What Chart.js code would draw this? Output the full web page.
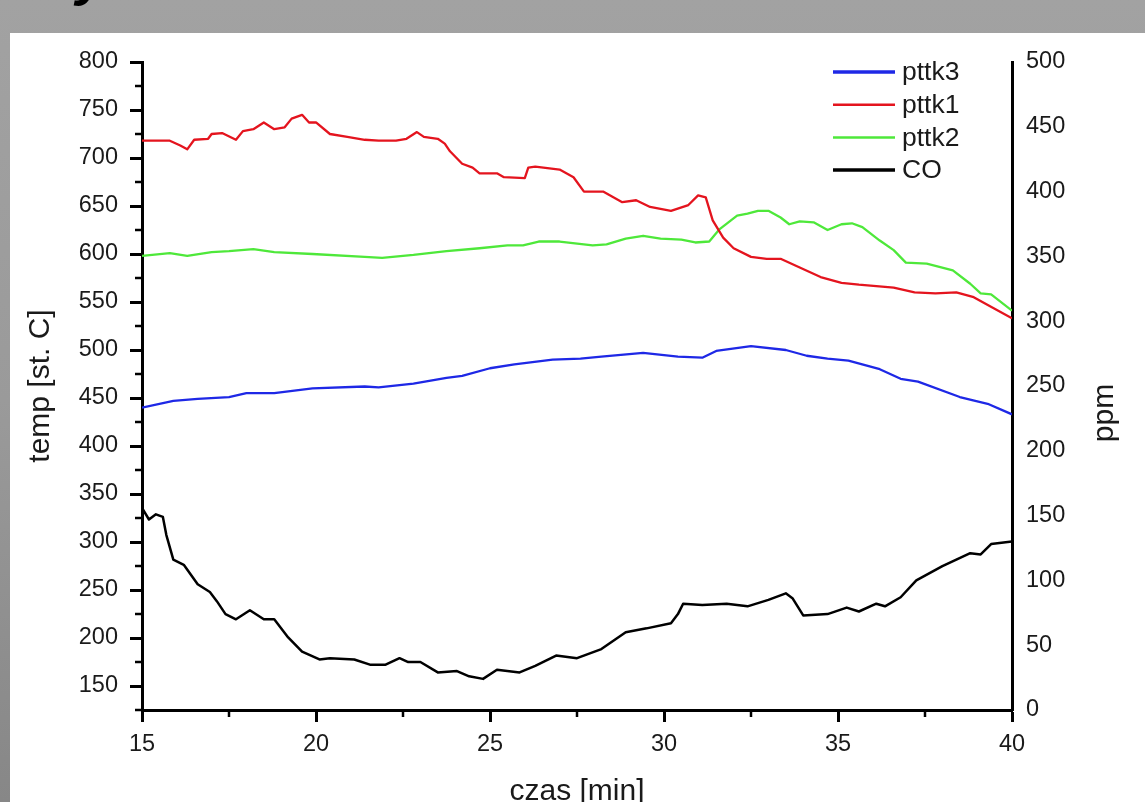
<!DOCTYPE html>
<html>
<head>
<meta charset="utf-8">
<script src="https://cdn.jsdelivr.net/npm/chart.js@4"></script>
<style>
  html, body { margin:0; padding:0; width:1145px; height:802px; overflow:hidden; }
  body { background: linear-gradient(to bottom, #a2a2a2 0%, #9a9a9a 50%, #878787 100%); position:relative; font-family:"Liberation Sans", Arial, sans-serif; }
  #panel { position:absolute; left:10px; top:33px; width:1135px; height:769px; background:#fff; overflow:hidden; }
  #cv { position:absolute; left:0; top:0; }
  #ttl { position:absolute; left:76px; top:-53px; font: italic bold 56px/56px "Liberation Sans", Arial, sans-serif; color:#000; }
</style>
</head>
<body>
<span id="ttl">y</span>
<div id="panel"><canvas id="cv" width="1135" height="790"></canvas></div>
<script>
// ---- data ----
const pttk3Time = [15.0,15.9,16.6,17.5,18.0,18.8,19.9,21.4,21.8,22.8,23.75,24.2,25.0,25.7,26.8,27.6,28.2,29.4,30.4,31.1,31.5,32.5,33.5,34.1,34.7,35.3,36.2,36.8,37.3,38.5,39.3,40.0];
const pttk3Temp = [440,447,449,451,455,455,460,462,461,465,471,473,481,485,490,491,493,497,493,492,499,504,500,494,491,489,480,470,467,451,444,433];

const pttk1Time = [15.0,15.8,16.1,16.3,16.5,16.9,17.0,17.3,17.7,17.9,18.2,18.5,18.8,19.1,19.3,19.6,19.8,20.0,20.4,20.9,21.4,21.8,22.3,22.6,22.9,23.1,23.5,23.7,23.85,24.2,24.5,24.7,25.2,25.4,26.0,26.1,26.3,27.0,27.4,27.7,28.25,28.8,29.2,29.6,30.2,30.7,30.98,31.2,31.4,31.7,32.0,32.5,32.95,33.35,33.9,34.5,35.1,35.6,36.6,37.2,37.8,38.4,38.9,39.5,40.0];
const pttk1Temp = [718,718,713,709,719,720,725,726,719,728,730,737,730,732,741,745,737,737,725,722,719,718,718,720,727,722,720,715,707,694,690,684,684,680,679,690,691,688,680,665,665,654,656,649,645,651,661,659,635,617,606,597,595,595,586,576,570,568,565,560,559,560,555,543,533];

const pttk2Time = [15.0,15.8,16.3,17.0,17.5,18.2,18.8,19.9,21.4,21.9,22.8,23.75,24.7,25.5,25.95,26.4,27.0,27.95,28.35,28.9,29.4,29.9,30.5,30.9,31.3,31.6,32.1,32.4,32.7,33.0,33.35,33.6,33.9,34.3,34.7,35.1,35.4,35.7,36.2,36.6,36.95,37.55,38.3,38.8,39.1,39.4,40.0];
const pttk2Temp = [598,601,598,602,603,605,602,600,597,596,599,603,606,609,609,613,613,609,610,616,619,616,615,612,613,626,640,642,645,645,638,631,634,633,625,631,632,628,614,604,591,590,583,569,559,558,541];

const coTime = [15.0,15.2,15.4,15.6,15.7,15.9,16.2,16.6,16.95,17.15,17.4,17.7,18.1,18.5,18.8,19.2,19.6,20.1,20.4,21.1,21.55,22.0,22.4,22.65,23.0,23.5,24.05,24.4,24.8,25.2,25.85,26.3,26.9,27.5,28.2,28.9,29.5,30.2,30.4,30.55,31.1,31.8,32.4,33.0,33.5,33.7,34.0,34.7,35.25,35.6,36.1,36.35,36.8,37.25,38.0,38.8,39.1,39.4,40.0];
const coPpm = [156,147,151,149,135,116,112,97,91,84,74,70,77,70,70,56,45,39,40,39,35,35,40,37,37,29,30,26,24,31,29,34,42,40,47,60,63,67,74,82,81,82,80,85,90,86,73,74,79,76,82,80,87,100,111,121,120,128,130];

const seriesLabels = ['pttk3','pttk1','pttk2','CO'];
const xTitle = 'czas [min]';
const yLeftTitle = 'temp [st. C]';
const yRightTitle = 'ppm';

const pts = (xs, ys) => xs.map((x, i) => ({x: x, y: ys[i]}));

const FONT = '"Liberation Sans", Arial, sans-serif';
const TXT = '#1a1a1a';

const minorTickPlugin = {
  id: 'minorTicks',
  afterDraw(chart) {
    const ctx = chart.ctx;
    ctx.save();
    ctx.strokeStyle = '#000';
    ctx.lineWidth = 2.5;
    const xs = chart.scales.x;
    xs.ticks.forEach(t => {
      if (Math.abs(t.value % 5) > 1e-6) {
        const px = xs.getPixelForValue(t.value);
        ctx.beginPath(); ctx.moveTo(px, xs.top); ctx.lineTo(px, xs.top + 7); ctx.stroke();
      }
    });
    const ys = chart.scales.y;
    ys.ticks.forEach(t => {
      if (Math.abs(t.value % 50) > 1e-6) {
        const py = ys.getPixelForValue(t.value);
        ctx.beginPath(); ctx.moveTo(ys.right, py); ctx.lineTo(ys.right - 7, py); ctx.stroke();
      }
    });
    ctx.restore();
  }
};

const rightTitlePlugin = {
  id: 'rightTitle',
  afterDraw(chart) {
    const ctx = chart.ctx;
    const s = chart.scales.y1;
    const a = chart.chartArea;
    ctx.save();
    ctx.translate(s.right - 40, (a.top + a.bottom) / 2 + 27);
    ctx.rotate(-Math.PI / 2);
    ctx.font = '30px ' + FONT;
    ctx.fillStyle = TXT;
    ctx.textAlign = 'center';
    ctx.textBaseline = 'middle';
    ctx.fillText(yRightTitle, 0, 0);
    ctx.restore();
  }
};

const legendPlugin = {
  id: 'insideLegend',
  afterDraw(chart) {
    const ctx = chart.ctx;
    const a = chart.chartArea;
    ctx.save();
    ctx.font = '26.5px ' + FONT;
    ctx.textBaseline = 'middle';
    ctx.fillStyle = TXT;
    chart.data.datasets.forEach((ds, i) => {
      const y = a.top + 10 + i * 32.7;
      ctx.strokeStyle = ds.borderColor;
      ctx.lineWidth = ds.legendWidth;
      ctx.beginPath(); ctx.moveTo(a.right - 179, y); ctx.lineTo(a.right - 117, y); ctx.stroke();
      ctx.fillText(ds.label, a.right - 110, y + 1);
    });
    ctx.restore();
  }
};

new Chart(document.getElementById('cv'), {
  type: 'line',
  data: {
    datasets: [
      { label: seriesLabels[0], data: pts(pttk3Time, pttk3Temp), yAxisID: 'y', borderColor: '#1e28e6', borderWidth: 2.3, legendWidth: 3.5 },
      { label: seriesLabels[1], data: pts(pttk1Time, pttk1Temp), yAxisID: 'y', borderColor: '#e4141e', borderWidth: 2.3, legendWidth: 2.5 },
      { label: seriesLabels[2], data: pts(pttk2Time, pttk2Temp), yAxisID: 'y', borderColor: '#4ee83a', borderWidth: 2.3, legendWidth: 2.5 },
      { label: seriesLabels[3], data: pts(coTime, coPpm), yAxisID: 'y1', borderColor: '#000000', borderWidth: 2.5, legendWidth: 3.5 }
    ]
  },
  options: {
    responsive: false,
    animation: false,
    devicePixelRatio: 1,
    elements: { point: { radius: 0 }, line: { tension: 0, borderJoinStyle: 'round' } },
    layout: { padding: { top: 29, left: 0, right: 0, bottom: 0 } },
    plugins: { legend: { display: false }, tooltip: { enabled: false } },
    scales: {
      x: {
        type: 'linear', position: 'bottom', min: 15, max: 40,
        afterFit(s) { s.height = 113; },
        border: { display: true, color: '#000', width: 3 },
        grid: { display: true, drawOnChartArea: false, drawTicks: true, tickLength: 12, tickWidth: 3,
                tickColor: c => (c.tick && Math.abs(c.tick.value % 5) < 1e-6) ? '#000' : 'rgba(0,0,0,0)' },
        ticks: { stepSize: 2.5, autoSkip: false, maxRotation: 0, padding: 8, color: TXT,
                 font: { family: FONT, size: 23.5 },
                 callback: v => (Math.abs(v % 5) < 1e-6 ? String(v) : '') },
        title: { display: true, text: xTitle, color: TXT, font: { family: FONT, size: 30 }, padding: { top: 0, bottom: 13 } }
      },
      y: {
        type: 'linear', position: 'left', min: 125, max: 800,
        afterFit(s) { s.width = 132; },
        border: { display: true, color: '#000', width: 3 },
        grid: { display: true, drawOnChartArea: false, drawTicks: true, tickLength: 12, tickWidth: 3,
                tickColor: c => (c.tick && Math.abs(c.tick.value % 50) < 1e-6) ? '#000' : 'rgba(0,0,0,0)' },
        ticks: { stepSize: 25, autoSkip: false, padding: 12, color: TXT,
                 font: { family: FONT, size: 23.5 },
                 callback: v => (Math.abs(v % 50) < 1e-6 ? String(v) : '') },
        title: { display: true, text: yLeftTitle, color: TXT, font: { family: FONT, size: 30 }, padding: { top: 13, bottom: 0 } }
      },
      y1: {
        type: 'linear', position: 'right', min: 0, max: 500,
        afterFit(s) { s.width = 133; },
        border: { display: true, color: '#000', width: 3 },
        grid: { display: true, drawOnChartArea: false, drawTicks: false },
        ticks: { stepSize: 50, autoSkip: false, padding: 14, color: TXT, font: { family: FONT, size: 23.5 } },
        title: { display: false, text: yRightTitle }
      }
    }
  },
  plugins: [minorTickPlugin, legendPlugin, rightTitlePlugin]
});
</script>
</body>
</html>
